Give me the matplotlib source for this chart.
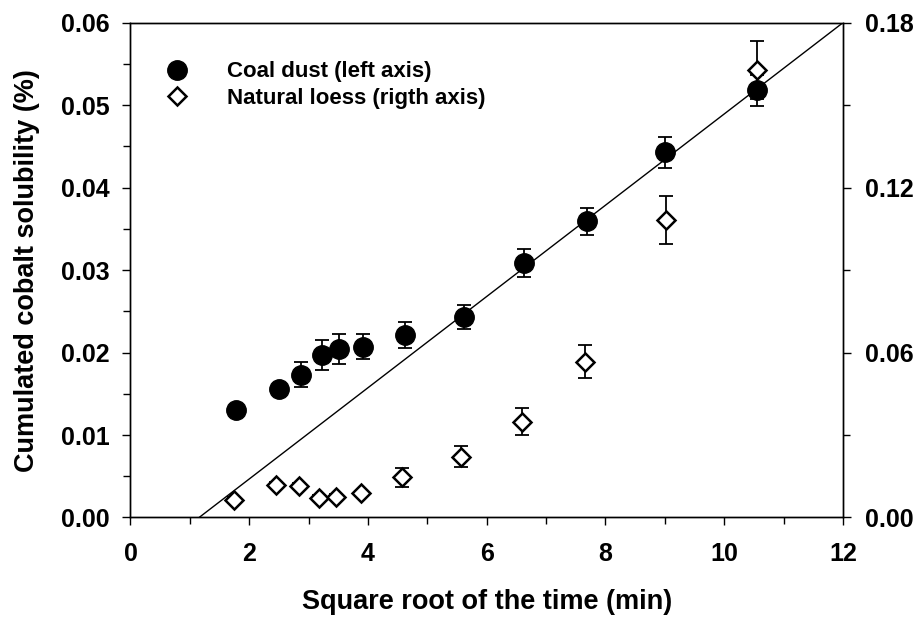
import numpy as np
import matplotlib
matplotlib.use('Agg')
import matplotlib.pyplot as plt
from matplotlib.ticker import MultipleLocator, FormatStrFormatter

plt.rcParams['font.family'] = ['Liberation Sans', 'DejaVu Sans']
plt.rcParams['font.weight'] = 'bold'

# Coal dust (left axis)
coal_x = [1.78, 2.51, 2.88, 3.22, 3.52, 3.92, 4.63, 5.61, 6.63, 7.69, 9.01, 10.56]
coal_y = [0.0130, 0.0156, 0.0173, 0.0197, 0.0204, 0.0207, 0.0221, 0.0243, 0.0309, 0.0359, 0.0443, 0.0518]
coal_err = [0.0003, 0.0006, 0.0015, 0.0018, 0.0018, 0.0015, 0.0016, 0.0015, 0.0017, 0.0016, 0.0019, 0.0019]

# Natural loess (right axis)
loess_x = [1.74, 2.45, 2.84, 3.17, 3.47, 3.88, 4.58, 5.57, 6.60, 7.66, 9.02, 10.56]
loess_y = [0.0064, 0.0118, 0.0115, 0.0070, 0.0076, 0.0088, 0.0146, 0.0221, 0.0349, 0.0567, 0.1082, 0.1628]
loess_err = [0.001, 0.001, 0.001, 0.001, 0.001, 0.001, 0.0035, 0.0039, 0.0049, 0.0060, 0.0086, 0.0107]

# Linear fit of coal dust
slope = 0.005533
intercept = -0.0064

fig = plt.figure(figsize=(9.2, 6.19), dpi=100)
ax = fig.add_axes([0.1418, 0.1640, 0.7744, 0.7993])
ax2 = ax.twinx()

x0 = -intercept / slope
xl = np.array([x0, 12.0])
ax.plot(xl, slope * xl + intercept, color='black', lw=1.0, zorder=2)

ax.errorbar(coal_x, coal_y, yerr=coal_err, fmt='none', ecolor='black',
            elinewidth=1.3, capsize=5, capthick=1.3, zorder=3)
h1, = ax.plot(coal_x, coal_y, 'o', color='black', ms=14, zorder=4,
              label='Coal dust (left axis)')

ax2.errorbar(loess_x, loess_y, yerr=loess_err, fmt='none', ecolor='black',
             elinewidth=1.3, capsize=5, capthick=1.3, zorder=3)
h2, = ax2.plot(loess_x, loess_y, 'D', mfc='white', mec='black', mew=1.8,
               ms=9.5, zorder=4, label='Natural loess (rigth axis)')

ax.set_xlim(0, 12)
ax.set_ylim(0, 0.06)
ax2.set_ylim(0, 0.18)

ax.xaxis.set_major_locator(MultipleLocator(2))
ax.xaxis.set_minor_locator(MultipleLocator(1))
ax.yaxis.set_major_locator(MultipleLocator(0.01))
ax.yaxis.set_minor_locator(MultipleLocator(0.005))
ax.yaxis.set_major_formatter(FormatStrFormatter('%.2f'))
ax2.yaxis.set_major_locator(MultipleLocator(0.06))
ax2.yaxis.set_minor_locator(MultipleLocator(0.03))
ax2.yaxis.set_major_formatter(FormatStrFormatter('%.2f'))

ax.tick_params(axis='both', which='major', direction='out', length=6, width=1,
               labelsize=18, pad=9)
ax.tick_params(axis='both', which='minor', direction='out', length=5, width=1)
ax.tick_params(axis='x', which='major', pad=12)
ax2.tick_params(axis='y', which='major', direction='out', length=6, width=1,
                labelsize=18, pad=10)
ax2.tick_params(axis='y', which='minor', direction='out', length=5, width=1)

for a in (ax, ax2):
    for s in a.spines.values():
        s.set_linewidth(1.0)

ax.set_xlabel('Square root of the time (min)', fontsize=19.5, fontweight='bold', labelpad=16)
ax.set_ylabel('Cumulated cobalt solubility (%)', fontsize=19.5, fontweight='bold', labelpad=15)

ax2.legend(handles=[h1, h2], loc='upper left', bbox_to_anchor=(0.03, 0.94),
           frameon=False, fontsize=16, handletextpad=1.5, labelspacing=0.25,
           borderaxespad=0, handlelength=1.5)

fig.savefig('out.png', dpi=100)
